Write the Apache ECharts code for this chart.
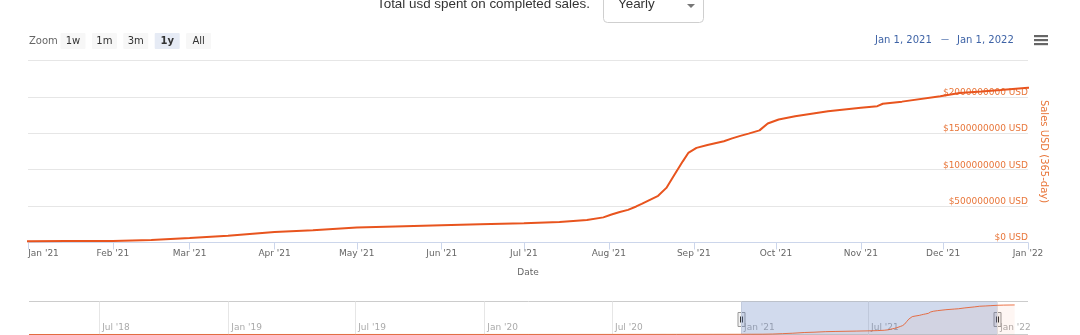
<!DOCTYPE html>
<html>
<head>
<meta charset="utf-8">
<script src="https://cdn.jsdelivr.net/npm/echarts@6/dist/echarts.min.js"></script>
<style>
  html, body { margin: 0; padding: 0; background: #fff; }
  #chart { width: 1080px; height: 335px; }
</style>
</head>
<body>
<div id="chart"></div>
<script>
// Rolling 365-day sales totals, in millions of USD
const dates = [
  '2018-03-23', '2018-07-01', '2019-01-01', '2019-07-01', '2020-01-01', '2020-07-01', '2020-10-01',
  '2021-01-01', '2021-01-15', '2021-02-01', '2021-02-15', '2021-03-01', '2021-03-15', '2021-04-01',
  '2021-04-15', '2021-05-01', '2021-05-15', '2021-06-01', '2021-06-15', '2021-07-01', '2021-07-14',
  '2021-07-24', '2021-07-30', '2021-08-02', '2021-08-05', '2021-08-08', '2021-08-11', '2021-08-13',
  '2021-08-16', '2021-08-19', '2021-08-22', '2021-08-25', '2021-08-28', '2021-08-30', '2021-09-02',
  '2021-09-06', '2021-09-12', '2021-09-15', '2021-09-18', '2021-09-21', '2021-09-25', '2021-09-28',
  '2021-10-02', '2021-10-08', '2021-10-20', '2021-11-01', '2021-11-07', '2021-11-09', '2021-11-16',
  '2021-11-30', '2021-12-07', '2021-12-15', '2021-12-22', '2022-01-01', '2022-01-10', '2022-01-26'
];
const salesMillions = [
  0, 0.3, 0.8, 1.6, 3, 6, 10,
  17, 19, 21, 35, 62, 92, 145,
  168, 206, 221, 237, 250, 265, 282,
  308, 345, 385, 420, 448, 495, 531,
  586, 641, 750, 935, 1115, 1230, 1300,
  1340, 1390, 1430, 1465, 1496, 1540, 1635,
  1690, 1735, 1804, 1851, 1873, 1906, 1935,
  2010, 2055, 2075, 2095, 2125, 2138, 2150
];

// Axis settings
const yTickStep = 500;          // millions
const yMax = 2500;              // millions
const viewRange = ['2021-01-01', '2022-01-01'];
const navigatorRange = ['2018-03-23', '2022-02-14'];
const monthTicks = [
  '2021-01-01', '2021-02-01', '2021-03-01', '2021-04-01', '2021-05-01', '2021-06-01', '2021-07-01',
  '2021-08-01', '2021-09-01', '2021-10-01', '2021-11-01', '2021-12-01', '2022-01-01'
];
const navigatorTicks = [
  '2018-07-01', '2019-01-01', '2019-07-01', '2020-01-01', '2020-07-01', '2021-01-01', '2021-07-01', '2022-01-01'
];
const monthNames = ['Jan', 'Feb', 'Mar', 'Apr', 'May', 'Jun', 'Jul', 'Aug', 'Sep', 'Oct', 'Nov', 'Dec'];

// Toolbar texts
const titleText = 'Total usd spent on completed sales.';
const periodChoice = 'Yearly';
const zoomButtons = ['1w', '1m', '3m', '1y', 'All'];
const activeZoom = '1y';
const rangeFrom = 'Jan 1, 2021';
const rangeTo = 'Jan 1, 2022';

const LINE = '#e8541e';
const LABEL_ORANGE = '#e8763a';
const FONT = '"DejaVu Sans", sans-serif';

// Dates are handled as epoch milliseconds on value axes
const toTime = d => new Date(d + 'T00:00:00').getTime();
const seriesData = dates.map((d, i) => [toTime(d), salesMillions[i]]);
const monthLabel = v => {
  const d = new Date(v);
  return monthNames[d.getMonth()] + " '" + String(d.getFullYear()).slice(2);
};
const viewStartTime = toTime(viewRange[0]);

const chart = echarts.init(document.getElementById('chart'), null, { renderer: 'canvas' });

// Toolbar graphics above the plot
const toolbar = [];
toolbar.push({
  type: 'text', left: 377, top: -2,
  style: { text: titleText, font: '13.4px "Liberation Sans", Arial, sans-serif', fill: '#333' }
});
toolbar.push({
  type: 'rect', shape: { x: 603.5, y: -10.5, width: 100, height: 33, r: 4 },
  style: { fill: '#fff', stroke: '#cfcfcf', lineWidth: 1 }
});
toolbar.push({
  type: 'text', left: 618, top: -2,
  style: { text: periodChoice, font: '13.4px "Liberation Sans", Arial, sans-serif', fill: '#333' }
});
toolbar.push({
  type: 'polygon', shape: { points: [[687, 4], [695, 4], [691, 8]] },
  style: { fill: '#777' }
});
toolbar.push({
  type: 'text', x: 29, y: 41,
  style: { text: 'Zoom', font: '10px ' + FONT, fill: '#666', verticalAlign: 'middle' }
});
zoomButtons.forEach((b, i) => {
  const cx = 73 + i * 31.4;
  const active = b === activeZoom;
  toolbar.push({
    type: 'rect', shape: { x: cx - 12.5, y: 33, width: 25, height: 16, r: 1 },
    style: { fill: active ? '#e6ebf5' : '#f7f7f7' }
  });
  toolbar.push({
    type: 'text', x: cx, y: 41,
    style: {
      text: b, font: (active ? 'bold ' : '') + '10px ' + FONT, fill: '#333',
      align: 'center', verticalAlign: 'middle'
    }
  });
});
toolbar.push({
  type: 'text', x: 875, y: 40,
  style: { text: rangeFrom, font: '10px ' + FONT, fill: '#3e63a6', verticalAlign: 'middle' }
});
toolbar.push({
  type: 'text', x: 945, y: 40,
  style: { text: '\u2014', font: '8px ' + FONT, fill: '#3e63a6', align: 'center', verticalAlign: 'middle' }
});
toolbar.push({
  type: 'text', x: 957, y: 40,
  style: { text: rangeTo, font: '10px ' + FONT, fill: '#3e63a6', verticalAlign: 'middle' }
});
[36, 40, 44].forEach(y => {
  toolbar.push({ type: 'rect', shape: { x: 1034, y: y - 1, width: 14, height: 2.2 }, style: { fill: '#666' } });
});

chart.setOption({
  animation: false,
  backgroundColor: '#fff',
  grid: [
    { left: 28, right: 52, top: 60.5, height: 182, containLabel: false },
    { left: 29, right: 52, top: 301.5, height: 33, containLabel: false }
  ],
  xAxis: [
    {
      type: 'value', gridIndex: 0,
      min: toTime(viewRange[0]), max: toTime(viewRange[1]),
      axisLine: { lineStyle: { color: '#ccd6eb', width: 1 } },
      axisTick: { show: true, length: 7, lineStyle: { color: '#ccd6eb' }, customValues: monthTicks.map(toTime) },
      splitLine: { show: false },
      axisLabel: {
        color: '#666', fontSize: 9, fontFamily: FONT, margin: 7,
        customValues: monthTicks.map(toTime),
        showMinLabel: true, showMaxLabel: true, hideOverlap: false,
        // first label is pushed right so it starts at the axis origin
        formatter: v => (v <= viewStartTime ? '{first|' + monthLabel(v) + '}' : monthLabel(v)),
        rich: { first: { padding: [0, 0, 0, 31], color: '#666', fontSize: 9, fontFamily: FONT } }
      },
      name: 'Date', nameLocation: 'middle', nameGap: 26,
      nameTextStyle: { color: '#666', fontSize: 9, fontFamily: FONT }
    },
    {
      type: 'value', gridIndex: 1,
      min: toTime(navigatorRange[0]), max: toTime(navigatorRange[1]),
      axisLine: { show: false },
      axisTick: { show: false, customValues: navigatorTicks.map(toTime) },
      splitLine: { show: true, lineStyle: { color: '#e6e6e6', width: 1 } },
      axisLabel: {
        inside: true, align: 'left', padding: [0, 0, 0, 3], margin: 2,
        customValues: navigatorTicks.map(toTime),
        color: '#aaa', fontSize: 9, fontFamily: FONT, formatter: monthLabel,
        hideOverlap: false
      }
    }
  ],
  yAxis: [
    {
      type: 'value', gridIndex: 0, position: 'right',
      min: 0, max: yMax, interval: yTickStep,
      axisLine: { show: false }, axisTick: { show: false },
      splitLine: { show: true, lineStyle: { color: '#e6e6e6', width: 1 } },
      axisLabel: {
        inside: true, margin: 0, verticalAlign: 'bottom', padding: [0, 0, 0, 0],
        color: LABEL_ORANGE, fontSize: 9, fontFamily: FONT,
        formatter: v => v >= yMax ? '' : '$' + (v * 1e6).toFixed(0) + ' USD'
      },
      name: 'Sales USD (365-day)', nameLocation: 'middle', nameRotate: -90, nameGap: 7,
      nameTextStyle: { color: LABEL_ORANGE, fontSize: 10, fontFamily: FONT }
    },
    {
      type: 'value', gridIndex: 1, min: 0, max: 2400, interval: 2400,
      axisLine: { show: false }, axisTick: { show: false }, axisLabel: { show: false },
      splitLine: { show: true, lineStyle: { color: '#cccccc', width: 1 } }
    }
  ],
  series: [
    {
      type: 'line', xAxisIndex: 0, yAxisIndex: 0,
      data: seriesData, showSymbol: false, clip: true,
      lineStyle: { color: LINE, width: 2 },
      z: 5
    },
    {
      type: 'line', xAxisIndex: 1, yAxisIndex: 1,
      data: seriesData, showSymbol: false,
      lineStyle: { color: LINE, width: 1, opacity: 0.8 },
      areaStyle: { color: 'rgba(232, 84, 30, 0.08)' },
      markArea: {
        silent: true,
        itemStyle: { color: 'rgba(102, 133, 194, 0.3)' },
        data: [[{ xAxis: toTime(viewRange[0]) }, { xAxis: toTime(viewRange[1]) }]]
      }
    }
  ],
  graphic: toolbar
});

// Navigator handles sit on the edges of the selected range
const handles = viewRange.map(d => {
  const x = Math.round(chart.convertToPixel({ xAxisIndex: 1 }, toTime(d))) + 0.5;
  const yTop = 312.5;
  return {
    type: 'group',
    children: [
      { type: 'rect', shape: { x: x - 3.5, y: yTop, width: 7, height: 14 },
        style: { fill: '#f2f2f2', stroke: '#999', lineWidth: 1 } },
      { type: 'line', shape: { x1: x - 1, y1: yTop + 4, x2: x - 1, y2: yTop + 10 },
        style: { stroke: '#333', lineWidth: 1 } },
      { type: 'line', shape: { x1: x + 1, y1: yTop + 4, x2: x + 1, y2: yTop + 10 },
        style: { stroke: '#333', lineWidth: 1 } }
    ]
  };
});
chart.setOption({ graphic: toolbar.concat(handles) });
</script>
</body>
</html>
